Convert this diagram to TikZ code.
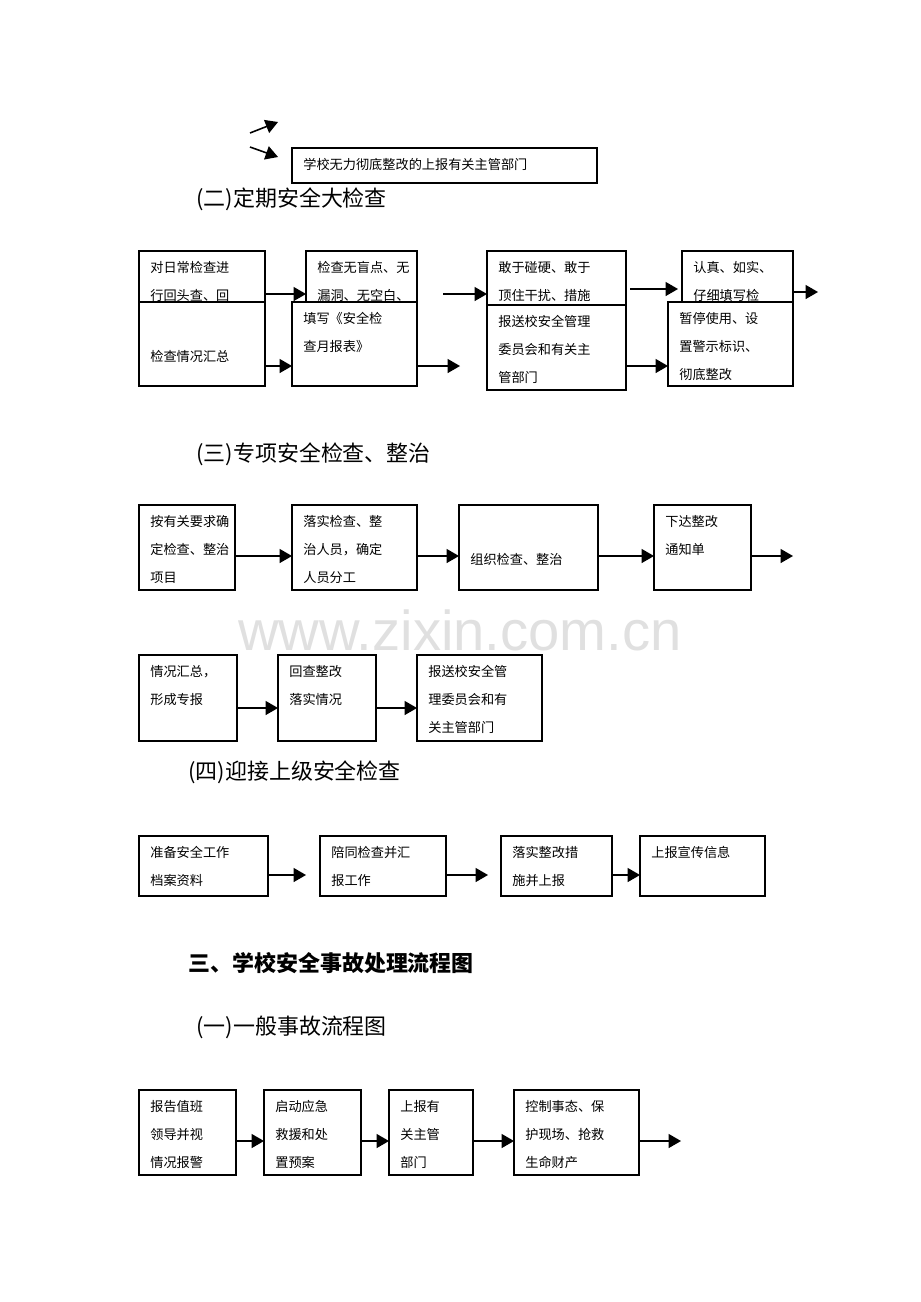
\documentclass[tikz,border=0pt]{standalone}
\usepackage{fontspec}
\setmainfont{Noto Sans CJK SC}
\newfontfamily\wmfont{Liberation Sans}
\usetikzlibrary{arrows}
\tikzset{
  box/.style={draw,fill=white,line width=0.7pt,inner sep=0,outer sep=0},
  txt/.style={anchor=north west,align=left,font=\fontsize{7.5pt}{16pt}\selectfont,inner sep=0},
  head/.style={anchor=west,font=\fontsize{12.5pt}{14pt}\selectfont,inner sep=0},
  arr/.style={-triangle 60,line width=0.9pt}
}
% box: name, x1, y1, x2, y2, text
\newcommand\pbox[6]{%
  \node[box,minimum width={(#4-#2)*0.02cm},minimum height={(#5-#3)*0.02cm}] (#1) at ({(#2+#4)/2},{(#3+#5)/2}) {};
  \node[txt] (#1t) at ([xshift=11*0.02cm,yshift=-10*0.02cm]#1.north west) {#6};}
\begin{document}
\begin{tikzpicture}[x=0.02cm,y=-0.02cm]
\useasboundingbox (0,0) rectangle (920,1302);

\node[font=\wmfont\fontsize{32pt}{32pt}\selectfont,text=black!12] (wm) at (460,630) {www.zixin.com.cn};

% top
\coordinate (t0) at (250,133); \coordinate (t1) at (278,122);
\coordinate (t2) at (250,147); \coordinate (t3) at (278,157);
\draw[arr] (t0) -- (t1);
\draw[arr] (t2) -- (t3);
\pbox{top}{292}{148}{597}{183}{学校无力彻底整改的上报有关主管部门}
\node[head] (h2) at (196,199) {(二)定期安全大检查};

% row 2
\pbox{a1}{139}{251}{265}{320}{对日常检查进\\行回头查、回}
\pbox{a2}{306}{251}{417}{335}{检查无盲点、无\\漏洞、无空白、}
\pbox{a3}{487}{251}{626}{320}{敢于碰硬、敢于\\顶住干扰、措施}
\pbox{a4}{682}{251}{793}{320}{认真、如实、\\仔细填写检}
\pbox{b1}{139}{302}{265}{386}{\\[12pt]检查情况汇总}
\pbox{b2}{292}{302}{417}{386}{填写《安全检\\查月报表》}
\pbox{b3}{487}{305}{626}{390}{报送校安全管理\\委员会和有关主\\管部门}
\pbox{b4}{668}{302}{793}{386}{暂停使用、设\\置警示标识、\\彻底整改}
\coordinate (p1) at (443,294); \coordinate (p2) at (630,289);
\coordinate (p3) at (678,289); \coordinate (p4) at (818,292);
\coordinate (q1) at (460,366);
\draw[arr] (a1.east |- 0,294) -- (a2.west |- 0,294);
\draw[arr] (p1) -- (a3.west |- p1);
\draw[arr] (p2) -- (p3);
\draw[arr] (a4.east |- p4) -- (p4);
\draw[arr] (b1.east |- 0,366) -- (b2.west |- 0,366);
\draw[arr] (b2.east |- q1) -- (q1);
\draw[arr] (b3.east |- 0,366) -- (b4.west |- 0,366);

\node[head] (h3) at (196,454) {(三)专项安全检查、整治};

% row 3
\pbox{c1}{139}{505}{235}{590}{按有关要求确\\定检查、整治\\项目}
\pbox{c2}{292}{505}{417}{590}{落实检查、整\\治人员，确定\\人员分工}
\pbox{c3}{459}{505}{598}{590}{\\[12pt]组织检查、整治}
\pbox{c4}{654}{505}{751}{590}{下达整改\\通知单}
\coordinate (r1) at (793,556);
\draw[arr] (c1.east |- 0,556) -- (c2.west |- 0,556);
\draw[arr] (c2.east |- 0,556) -- (c3.west |- 0,556);
\draw[arr] (c3.east |- 0,556) -- (c4.west |- 0,556);
\draw[arr] (c4.east |- r1) -- (r1);

% row 4
\pbox{d1}{139}{655}{237}{741}{情况汇总，\\形成专报}
\pbox{d2}{278}{655}{376}{741}{回查整改\\落实情况}
\pbox{d3}{417}{655}{542}{741}{报送校安全管\\理委员会和有\\关主管部门}
\draw[arr] (d1.east |- 0,708) -- (d2.west |- 0,708);
\draw[arr] (d2.east |- 0,708) -- (d3.west |- 0,708);

\node[head] (h4) at (188,772) {(四)迎接上级安全检查};

% row 5
\pbox{e1}{139}{836}{268}{896}{准备安全工作\\档案资料}
\pbox{e2}{320}{836}{446}{896}{陪同检查并汇\\报工作}
\pbox{e3}{501}{836}{612}{896}{落实整改措\\施并上报}
\pbox{e4}{640}{836}{765}{896}{上报宣传信息}
\coordinate (s1) at (306,875); \coordinate (s2) at (488,875);
\draw[arr] (e1.east |- s1) -- (s1);
\draw[arr] (e2.east |- s2) -- (s2);
\draw[arr] (e3.east |- 0,875) -- (e4.west |- 0,875);

\node[head,font=\bfseries\fontsize{12.5pt}{14pt}\selectfont] (h5) at (188,963) {三、学校安全事故处理流程图};
\node[head] (h6) at (196,1027) {(一)一般事故流程图};

% row 6
\pbox{f1}{139}{1090}{236}{1175}{报告值班\\领导并视\\情况报警}
\pbox{f2}{264}{1090}{361}{1175}{启动应急\\救援和处\\置预案}
\pbox{f3}{389}{1090}{473}{1175}{上报有\\关主管\\部门}
\pbox{f4}{514}{1090}{639}{1175}{控制事态、保\\护现场、抢救\\生命财产}
\coordinate (u1) at (681,1141);
\draw[arr] (f1.east |- 0,1141) -- (f2.west |- 0,1141);
\draw[arr] (f2.east |- 0,1141) -- (f3.west |- 0,1141);
\draw[arr] (f3.east |- 0,1141) -- (f4.west |- 0,1141);
\draw[arr] (f4.east |- u1) -- (u1);
\end{tikzpicture}
\end{document}
